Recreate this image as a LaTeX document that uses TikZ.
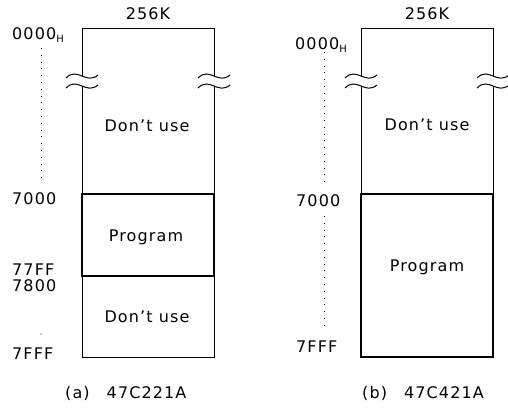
\documentclass[tikz,border=0pt]{standalone}
\usepackage{fontspec}
\setmainfont[LetterSpace=7]{DejaVu Sans}
\begin{document}
\begin{tikzpicture}[x=1pt,y=-1pt,
  lbl/.style={font=\fontsize{16}{17}\selectfont, inner sep=0pt},
  lft/.style={lbl, anchor=west},
  thin/.style={line width=0.9pt},
  thick/.style={line width=1.8pt},
  dots/.style={line width=1pt, dash pattern=on 0.8pt off 6pt},
  wave/.style={line width=1pt}]
\useasboundingbox (0,0) rectangle (508,408);
\begin{scope}
\clip (0,0) rectangle (508,408);
% ---------- (a) ----------
\draw[thin] (82,76) -- (82,28) -- (214,28) -- (214,76);
\draw[thin] (82,86) -- (82,357) -- (214,357) -- (214,86);
\draw[thick] (82,194) rectangle (214,276);
\foreach \xx in {82,214}{
  \foreach \yy in {76,86}{
    \draw[wave] (\xx-16,\yy+2) .. controls (\xx-10,\yy-4) and (\xx-5,\yy-2) .. (\xx,\yy)
      .. controls (\xx+5,\yy+2) and (\xx+10,\yy+4) .. (\xx+16,\yy-1);
  }
}
\node[lbl] (a256) at (148,14) {256K};
\node[lft] (a0) at (12,35) {0000\raisebox{-0.35ex}{\fontsize{10}{10}\selectfont H}};
\node[lft] (a7000) at (12,199) {7000};
\node[lft] (a77ff) at (12,270) {77FF};
\node[lft] (a7800) at (12,286) {7800};
\node[lft] (a7fff) at (12,354) {7FFF};
\coordinate (ad1) at (41,48);
\coordinate (ad2) at (41,182);
\draw[dots] (ad1) -- (ad2);
\fill (41,334) circle (0.7);
\node[lbl] (adu1) at (147,126) {Don’t use};
\node[lbl] (aprog) at (146,237) {Program};
\node[lbl] (adu2) at (147,317) {Don’t use};
\node[lft] (acap) at (65,393) {(a)\hspace{17pt}47C221A};
% ---------- (b) ----------
\draw[thin] (361,76) -- (361,28) -- (493,28) -- (493,76);
\draw[thin] (361,86) -- (361,357) -- (493,357) -- (493,86);
\draw[thick] (361,194) rectangle (493,357);
\foreach \xx in {361,493}{
  \foreach \yy in {76,86}{
    \draw[wave] (\xx-16,\yy+2) .. controls (\xx-10,\yy-4) and (\xx-5,\yy-2) .. (\xx,\yy)
      .. controls (\xx+5,\yy+2) and (\xx+10,\yy+4) .. (\xx+16,\yy-1);
  }
}
\node[lbl] (b256) at (427,14) {256K};
\node[lft] (b0) at (295,45) {0000\raisebox{-0.35ex}{\fontsize{10}{10}\selectfont H}};
\node[lft] (b7000) at (296,201) {7000};
\node[lft] (b7fff) at (296,347) {7FFF};
\coordinate (bd1) at (324,52);
\coordinate (bd2) at (324,186);
\coordinate (bd3) at (324,216);
\coordinate (bd4) at (324,326);
\draw[dots] (bd1) -- (bd2);
\draw[dots] (bd3) -- (bd4);
\node[lbl] (bdu1) at (427,125) {Don’t use};
\node[lbl] (bprog) at (427,267) {Program};
\node[lft] (bcap) at (362,393) {(b)\hspace{17pt}47C421A};
\end{scope}
\end{tikzpicture}
\end{document}
